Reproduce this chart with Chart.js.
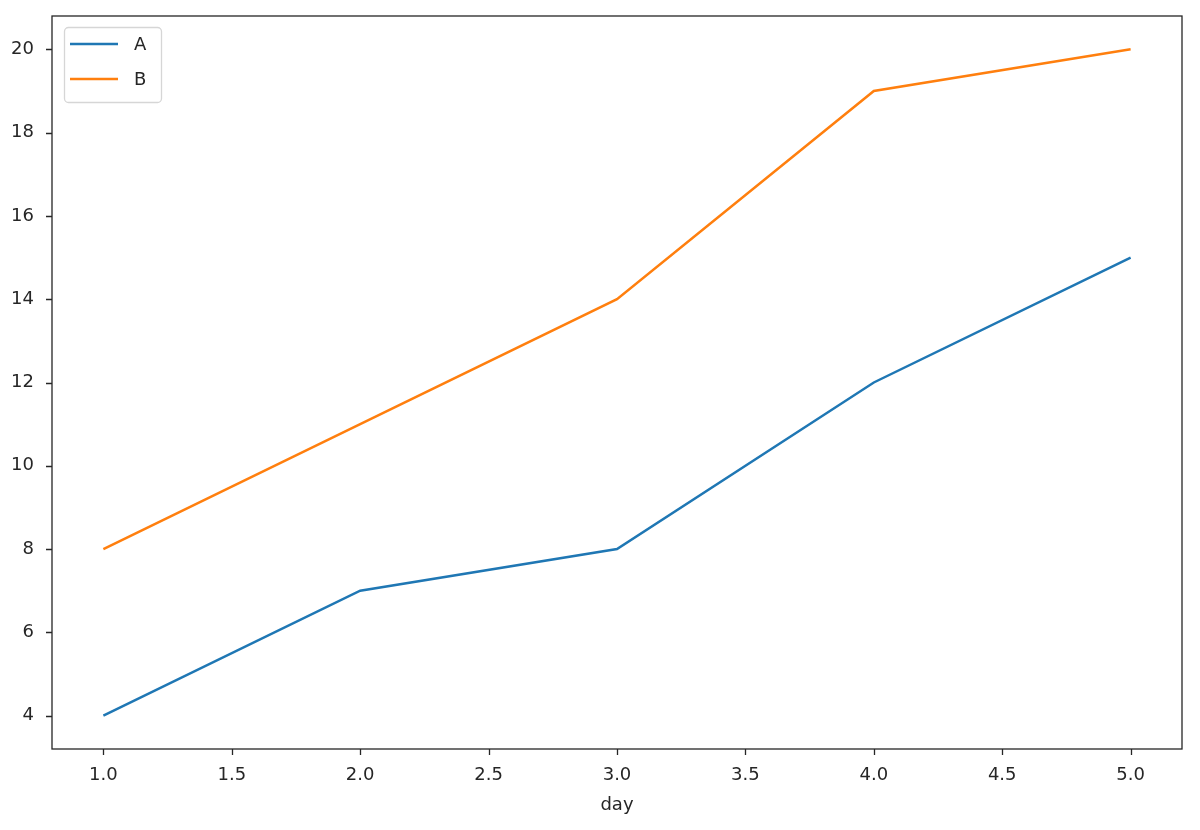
<!DOCTYPE html>
<html>
<head>
<meta charset="utf-8">
<script src="https://cdn.jsdelivr.net/npm/chart.js@4"></script>
<style>
html,body{margin:0;padding:0;background:#fff;}
canvas{display:block;}
</style>
</head>
<body>
<canvas id="c" width="1200" height="830"></canvas>
<script>
const days = [1, 2, 3, 4, 5];
const seriesA = [4, 7, 8, 12, 15];
const seriesB = [8, 11, 14, 19, 20];
const xTicks = [1.0, 1.5, 2.0, 2.5, 3.0, 3.5, 4.0, 4.5, 5.0];
const yTicks = [4, 6, 8, 10, 12, 14, 16, 18, 20];

const FONT = "'DejaVu Sans', sans-serif";
const txt = '#262626';
const FS = 18;

const frame = {
  id: 'frame',
  afterDraw(chart) {
    const {ctx, chartArea: a} = chart;
    ctx.save();
    ctx.strokeStyle = '#262626';
    ctx.lineWidth = 1.3;
    ctx.strokeRect(a.left, a.top, a.right - a.left, a.bottom - a.top);
    // tick marks
    ctx.beginPath();
    const xs = chart.scales.x, ys = chart.scales.y;
    xs.ticks.forEach(t => {
      const px = Math.round(xs.getPixelForValue(t.value)) + 0.5;
      ctx.moveTo(px, a.bottom); ctx.lineTo(px, a.bottom + 6);
    });
    ys.ticks.forEach(t => {
      const py = Math.round(ys.getPixelForValue(t.value)) + 0.5;
      ctx.moveTo(a.left, py); ctx.lineTo(a.left - 6, py);
    });
    ctx.stroke();
    // legend
    const lx = a.left + 12, ly = a.top + 11, lw = 97, lh = 75;
    ctx.beginPath();
    if (ctx.roundRect) ctx.roundRect(lx + 0.5, ly + 0.5, lw, lh, 4); else ctx.rect(lx + 0.5, ly + 0.5, lw, lh);
    ctx.fillStyle = 'rgba(255,255,255,0.8)';
    ctx.fill();
    ctx.strokeStyle = '#d6d6d6';
    ctx.lineWidth = 1.3;
    ctx.stroke();
    ctx.font = FS + 'px ' + FONT;
    ctx.textBaseline = 'middle';
    ctx.textAlign = 'left';
    chart.data.datasets.forEach((ds, i) => {
      const y = ly + 17 + i * 35;
      ctx.strokeStyle = ds.borderColor;
      ctx.lineWidth = 2.5;
      ctx.beginPath();
      ctx.moveTo(lx + 6, y); ctx.lineTo(lx + 54, y);
      ctx.stroke();
      ctx.fillStyle = txt;
      ctx.fillText(ds.label, lx + 70, y + 1);
    });
    ctx.restore();
  }
};

new Chart(document.getElementById('c'), {
  type: 'line',
  data: {
    datasets: [
      { label: 'A', data: days.map((d, i) => ({x: d, y: seriesA[i]})), borderColor: '#1f77b4', backgroundColor: '#1f77b4', borderWidth: 2.5, pointRadius: 0, tension: 0 },
      { label: 'B', data: days.map((d, i) => ({x: d, y: seriesB[i]})), borderColor: '#ff7f0e', backgroundColor: '#ff7f0e', borderWidth: 2.5, pointRadius: 0, tension: 0 }
    ]
  },
  plugins: [frame],
  options: {
    responsive: false,
    animation: false,
    layout: { padding: { top: 16, right: 18, left: 0, bottom: 0 } },
    plugins: {
      legend: { display: false },
      tooltip: { enabled: false }
    },
    scales: {
      x: {
        type: 'linear', min: 0.8, max: 5.2,
        afterBuildTicks: s => { s.ticks = xTicks.map(v => ({value: v})); },
        afterFit: s => { s.height = 81; s.paddingLeft = 0; s.paddingRight = 0; },
        grid: { display: false, drawTicks: false },
        border: { display: false },
        ticks: { color: txt, font: { family: FONT, size: FS }, padding: 16, callback: v => Number(v).toFixed(1), maxRotation: 0, autoSkip: false },
        title: { display: true, text: 'day', color: txt, font: { family: FONT, size: FS }, padding: { top: 6, bottom: 14 } }
      },
      y: {
        type: 'linear', min: 3.2, max: 20.8,
        afterBuildTicks: s => { s.ticks = yTicks.map(v => ({value: v})); },
        afterFit: s => { s.width = 52; s.paddingTop = 0; s.paddingBottom = 0; },
        grid: { display: false, drawTicks: false },
        border: { display: false },
        ticks: { color: txt, font: { family: FONT, size: FS }, padding: 18, callback: v => String(v), autoSkip: false }
      }
    }
  }
});
</script>
</body>
</html>
